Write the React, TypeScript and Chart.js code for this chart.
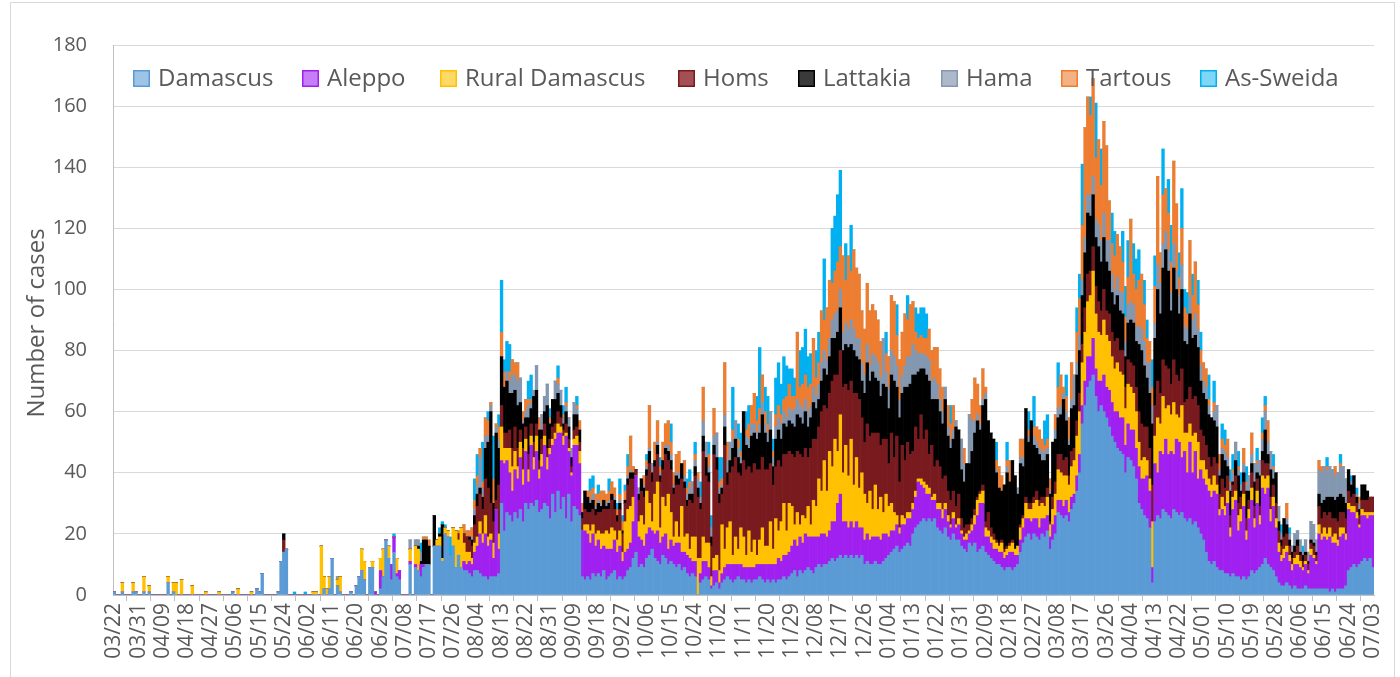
import React, { useEffect, useRef } from 'react';
import { Chart, registerables } from 'chart.js';

Chart.register(...registerables);

const SERIES_NAMES = ['Damascus', 'Aleppo', 'Rural Damascus', 'Homs', 'Lattakia', 'Hama', 'Tartous', 'As-Sweida'];
const SERIES_COLORS = ['#5B9BD5', '#A020F0', '#FFC000', '#781A1E', '#000000', '#8497B0', '#ED7D31', '#00B0F0'];
const LEGEND_FILLS = ['#9DC3E6', '#C77DF7', '#FFD966', '#A35055', '#3A3A3A', '#ADB9CA', '#F4B183', '#7FD7F7'];

const TICK_LABELS = [
  '03/22', '03/31', '04/09', '04/18', '04/27', '05/06', '05/15', '05/24', '06/02', '06/11', '06/20', '06/29',
  '07/08', '07/17', '07/26', '08/04', '08/13', '08/22', '08/31', '09/09', '09/18', '09/27', '10/06', '10/15',
  '10/24', '11/02', '11/11', '11/20', '11/29', '12/08', '12/17', '12/26', '01/04', '01/13', '01/22', '01/31',
  '02/09', '02/18', '02/27', '03/08', '03/17', '03/26', '04/04', '04/13', '04/22', '05/01', '05/10', '05/19',
  '05/28', '06/06', '06/15', '06/24', '07/03',
];
const TICK_EVERY = 9;

const DAMASCUS = [
  1,0,0,1,0,0,0,1,1,
  0,0,1,0,1,0,0,0,0,
  0,0,4,0,1,0,0,0,0,
  0,0,0,0,0,0,0,0,0,
  0,0,0,0,0,0,0,0,1,
  0,0,0,0,0,0,0,0,2,
  1,7,0,0,0,0,0,1,11,
  14,15,0,0,0,0,0,0,0,
  0,0,0,0,0,0,2,0,2,
  12,0,3,1,0,0,0,1,0,
  3,6,8,5,0,9,9,0,0,
  2,6,18,12,5,14,6,5,0,
  0,0,10,0,9,8,6,9,10,
  10,0,16,16,16,11,20,19,13,
  16,9,13,9,8,8,7,6,8,
  8,7,6,6,5,6,6,6,7,
  30,21,27,26,24,27,25,28,24,
  30,28,30,29,31,27,28,30,29,
  25,33,27,34,28,32,25,33,24,
  29,28,26,6,5,6,5,7,6,
  7,6,8,5,6,7,8,5,6,
  5,6,8,9,12,14,9,10,9,
  12,13,15,12,11,10,13,12,10,
  11,10,9,10,8,9,7,6,7,
  6,0,4,5,6,5,2,3,4,
  2,4,5,6,5,4,5,6,5,
  5,4,5,4,5,5,6,5,4,
  5,4,5,4,5,5,6,5,6,
  7,8,6,8,7,8,9,8,7,
  9,10,9,10,10,11,12,11,12,
  13,12,13,12,13,12,13,12,13,
  10,11,10,10,11,10,10,11,12,
  13,14,15,16,14,15,16,17,16,
  20,22,23,24,25,24,25,24,25,
  22,21,20,22,19,18,20,18,18,
  16,15,14,17,16,17,14,15,16,
  14,13,12,11,10,10,9,8,9,
  9,8,9,10,14,17,19,20,18,
  20,19,18,20,19,21,15,18,20,
  27,26,25,26,24,28,30,34,40,
  56,62,68,70,72,65,60,62,60,
  58,55,52,50,48,47,46,40,45,
  44,42,38,30,28,26,25,22,4,
  24,26,25,28,27,26,25,28,27,
  26,27,25,24,25,23,24,22,20,
  18,14,11,10,11,9,8,8,7,
  7,6,7,6,6,5,6,5,6,
  8,7,8,9,10,12,10,9,8,
  6,4,3,3,4,3,2,3,2,
  2,2,3,2,2,2,2,2,2,
  2,2,1,2,1,2,2,2,3,
  8,9,10,9,10,11,12,11,12,
  9,
];

const ALEPPO = [
  0,0,0,0,0,0,0,0,0,
  0,0,0,0,0,0,0,0,0,
  0,0,0,0,0,0,0,0,0,
  0,0,0,0,0,0,0,0,0,
  0,0,0,0,0,0,0,0,0,
  0,0,0,0,0,0,0,0,0,
  0,0,0,0,0,0,0,0,0,
  0,0,0,0,0,0,0,0,0,
  0,0,0,0,0,0,0,0,0,
  0,0,0,0,0,0,0,0,0,
  0,0,0,0,0,0,0,1,0,
  6,0,0,0,5,5,1,3,0,
  0,0,1,0,1,0,4,1,0,
  0,0,0,0,0,0,0,0,0,
  0,0,0,0,3,2,4,4,6,
  8,13,11,14,11,12,6,22,8,
  14,22,17,14,10,14,13,17,12,
  17,9,19,12,16,11,14,19,12,
  21,16,24,19,25,17,27,14,15,
  20,21,17,15,16,14,12,13,10,
  11,9,8,10,9,8,10,9,10,
  6,8,7,8,12,25,10,8,7,
  8,9,6,8,10,7,6,8,5,
  7,6,8,7,6,5,6,6,4,
  5,0,3,6,5,4,1,5,4,
  2,3,4,4,5,6,5,4,5,
  4,5,4,5,4,5,4,5,6,
  5,6,5,6,7,6,7,8,8,
  9,10,10,11,10,12,10,11,12,
  10,9,11,10,9,10,12,13,18,
  20,12,11,10,11,10,11,10,9,
  8,9,8,9,8,9,8,9,8,
  6,7,6,7,6,8,7,8,9,
  8,10,14,12,10,9,8,7,6,
  6,7,5,6,5,4,5,4,5,
  4,3,4,3,5,6,12,15,14,
  5,6,5,4,5,4,5,4,4,
  5,6,4,3,4,5,6,5,6,
  5,6,4,5,6,5,4,5,6,
  4,5,4,5,3,4,3,5,6,
  6,8,10,8,12,9,10,8,12,
  10,12,11,10,12,11,12,9,11,
  10,12,10,12,10,12,14,12,5,
  19,14,22,18,24,20,22,18,24,
  24,18,22,16,25,17,23,16,21,
  20,22,23,22,23,24,18,20,19,
  23,13,21,25,15,19,23,13,19,
  23,15,22,14,25,21,25,15,21,
  16,10,8,9,10,8,6,7,8,
  7,6,7,5,11,10,8,18,16,
  17,16,18,15,16,14,17,18,15,
  20,18,17,16,12,15,14,14,14,
  17,
];

const RURAL_DAMASCUS = [
  0,0,0,3,0,0,0,3,0,
  0,0,5,0,2,0,0,0,0,
  0,0,2,0,3,4,0,5,0,
  0,0,3,0,0,0,0,1,0,
  0,0,0,1,0,0,0,0,0,
  0,2,0,0,0,0,1,0,0,
  0,0,0,0,0,0,0,0,0,
  0,0,0,0,0,0,0,0,0,
  0,0,1,1,0,16,4,2,4,
  0,0,2,5,0,0,0,0,0,
  0,0,7,6,0,0,2,0,0,
  4,9,0,4,0,0,5,0,0,
  0,0,4,0,6,7,0,0,0,
  0,0,0,2,3,1,2,2,0,
  6,12,5,13,6,4,3,2,3,
  3,4,3,6,3,2,5,0,5,
  11,5,4,8,8,6,4,5,5,
  4,4,3,4,5,3,4,3,4,
  2,2,2,3,2,3,1,1,1,
  2,3,4,0,2,3,4,3,4,
  3,5,4,6,5,7,3,4,5,
  3,10,13,12,8,0,5,8,7,
  14,8,3,13,16,5,13,9,18,
  9,3,7,2,15,5,7,3,8,
  8,12,5,8,6,8,3,4,5,
  4,16,6,12,14,3,9,5,12,
  10,4,12,5,9,3,8,12,6,
  6,14,5,15,9,13,17,8,16,
  13,5,11,4,9,5,10,4,12,
  10,19,14,24,15,26,18,27,17,
  26,16,25,17,27,14,21,13,18,
  15,10,16,9,17,9,14,7,13,
  10,9,6,3,2,3,2,2,2,
  2,2,1,2,2,3,2,1,2,
  2,2,3,2,2,1,2,1,2,
  1,1,2,1,2,3,5,3,4,
  3,2,2,3,2,2,3,2,2,
  2,3,2,3,4,3,5,3,4,
  5,6,7,5,4,6,4,5,7,
  10,9,10,8,9,10,11,13,14,
  14,16,18,20,22,18,16,15,18,
  17,16,15,14,16,15,14,12,13,
  14,12,12,8,6,7,5,4,15,
  9,18,9,19,10,16,12,17,8,
  8,17,6,13,6,12,6,12,3,
  6,5,4,4,5,3,2,4,3,
  4,3,4,3,5,4,4,3,3,
  4,3,4,3,4,5,4,4,3,
  3,3,2,3,2,2,2,2,3,
  2,1,1,1,2,1,1,3,2,
  3,2,3,2,3,2,3,2,2,
  2,2,2,2,1,2,1,2,1,
  1,
];

const HOMS = [
  0,0,0,0,0,0,0,0,0,
  0,0,0,0,0,0,0,0,0,
  0,0,0,0,0,0,0,0,0,
  0,0,0,0,0,0,0,0,0,
  0,0,0,0,0,0,0,0,0,
  0,0,0,0,0,0,0,0,0,
  0,0,0,0,0,0,0,0,0,
  4,0,0,0,0,0,0,0,0,
  0,0,0,0,0,0,0,0,0,
  0,0,0,0,0,0,0,0,0,
  0,0,0,0,0,0,0,0,0,
  0,0,0,0,0,0,0,0,0,
  0,0,0,0,0,0,0,0,0,
  0,0,0,0,0,0,0,0,0,
  0,0,2,0,3,5,4,4,6,
  10,9,8,12,16,10,7,3,16,
  7,5,5,6,6,8,6,4,7,
  4,5,4,5,4,3,5,4,3,
  3,4,3,4,3,2,3,3,2,
  3,3,3,4,5,4,6,5,6,
  6,7,8,7,8,9,7,6,7,
  6,6,8,9,6,2,7,8,9,
  5,13,13,9,9,15,9,17,11,
  14,14,12,17,9,16,9,16,11,
  20,20,16,28,22,20,10,34,28,
  22,10,34,14,16,29,26,25,17,
  25,28,21,26,25,28,23,23,25,
  25,19,21,17,23,18,16,25,17,
  17,22,20,23,19,23,16,25,20,
  22,17,26,18,27,19,28,21,25,
  21,28,20,28,19,30,21,29,18,
  17,26,18,25,17,25,17,24,18,
  14,23,18,26,15,23,19,23,19,
  17,21,13,21,14,18,11,17,9,
  14,12,10,9,8,8,7,6,8,
  4,3,3,2,2,2,1,1,2,
  2,6,3,2,1,1,1,1,1,
  1,1,0,0,1,1,2,2,2,
  2,3,2,2,3,3,1,4,4,
  5,6,5,6,3,5,4,5,6,
  6,8,9,8,8,9,10,8,10,
  8,9,8,9,8,7,8,7,8,
  8,9,8,10,12,10,11,10,12,
  10,12,10,12,14,12,10,14,13,
  12,12,10,11,12,12,12,12,10,
  8,8,7,6,6,7,5,6,6,
  5,4,4,5,4,4,4,4,3,
  5,4,4,3,5,5,4,4,4,
  5,4,3,4,4,3,2,2,3,
  2,2,2,2,2,3,2,6,5,
  5,6,5,6,5,6,5,5,5,
  4,3,4,3,3,3,4,4,5,
  5,
];

const LATTAKIA = [
  0,0,0,0,0,0,0,0,0,
  0,0,0,0,0,0,0,0,0,
  0,0,0,0,0,0,0,0,0,
  0,0,0,0,0,0,0,0,0,
  0,0,0,0,0,0,0,0,0,
  0,0,0,0,0,0,0,0,0,
  0,0,0,0,0,0,0,0,0,
  2,0,0,0,0,0,0,0,0,
  0,0,0,0,0,0,0,0,0,
  0,0,0,0,0,0,0,0,0,
  0,0,0,0,0,0,0,0,0,
  0,0,0,0,0,0,0,0,0,
  0,0,0,0,0,1,1,8,8,
  6,0,10,0,1,11,0,0,0,
  0,0,0,0,0,0,1,2,3,
  4,2,4,10,15,30,6,22,12,
  16,15,17,12,18,12,14,9,8,
  3,12,5,15,11,10,3,4,14,
  5,9,8,6,4,2,4,4,3,
  5,4,4,2,6,5,3,3,2,
  3,2,3,1,2,2,3,2,2,
  1,1,2,2,2,0,2,4,3,
  2,4,3,2,3,2,3,2,3,
  3,2,3,2,5,2,2,2,3,
  3,3,2,5,6,3,3,3,4,
  3,2,6,4,4,6,6,5,4,
  16,8,6,12,10,10,12,14,12,
  9,11,6,9,10,9,10,9,10,
  10,10,12,12,11,12,10,10,12,
  10,9,10,12,11,12,14,12,14,
  14,12,13,14,12,14,12,13,12,
  16,20,18,20,18,17,16,18,17,
  18,19,25,16,21,17,24,18,23,
  25,17,22,15,23,18,24,15,22,
  20,18,18,25,18,17,17,26,21,
  16,15,20,20,22,25,25,20,26,
  40,30,31,31,22,18,16,21,24,
  20,26,24,17,20,16,29,20,27,
  17,14,15,12,12,11,9,18,14,
  12,13,20,12,10,14,14,15,14,
  16,18,20,18,17,16,18,16,17,
  16,14,13,12,14,13,12,10,12,
  14,14,15,22,24,20,16,18,20,
  22,30,26,30,38,32,24,30,28,
  22,26,20,18,24,20,20,19,16,
  14,15,14,16,12,12,6,8,9,
  3,8,1,5,9,2,3,9,3,
  3,8,2,10,3,11,3,9,2,
  10,3,2,6,3,2,2,2,2,
  1,2,1,1,1,1,1,4,5,
  4,6,5,7,6,8,6,5,5,
  7,4,6,2,2,5,5,3,0,
  0,
];

const HAMA = [
  0,0,0,0,0,0,0,0,0,
  0,0,0,0,0,0,0,0,0,
  0,0,0,0,0,0,0,0,0,
  0,0,0,0,0,0,0,0,0,
  0,0,0,0,0,0,0,0,0,
  0,0,0,0,0,0,0,0,0,
  0,0,0,0,0,0,0,0,0,
  0,0,0,0,0,0,0,0,0,
  0,0,0,0,0,0,0,0,0,
  0,0,1,0,0,0,0,0,0,
  0,0,0,0,0,0,0,0,0,
  0,0,0,0,0,0,0,0,0,
  0,0,3,0,2,2,3,0,0,
  0,0,0,0,0,0,0,0,0,
  0,0,0,0,0,0,0,1,2,
  3,10,3,4,2,2,0,2,3,
  0,0,3,4,6,5,8,8,1,
  2,4,2,2,8,0,5,5,7,
  0,0,6,3,5,2,2,3,3,
  4,2,0,0,0,0,1,2,1,
  1,1,0,1,1,0,1,0,1,
  0,0,1,1,0,0,2,0,1,
  1,1,3,0,1,1,0,1,2,
  2,1,1,2,0,2,2,2,4,
  2,3,2,5,5,2,3,3,8,
  2,1,4,4,6,3,6,3,2,
  0,3,3,4,3,2,3,4,3,
  3,6,3,4,4,5,4,3,4,
  4,6,5,4,5,4,5,4,5,
  4,5,6,6,5,6,6,8,7,
  6,6,7,6,8,7,6,7,6,
  6,6,5,6,7,6,6,15,5,
  7,8,8,7,6,6,7,10,9,
  10,8,6,5,5,6,7,6,7,
  5,4,4,4,3,3,3,2,0,
  10,6,0,16,10,4,2,2,2,
  2,0,0,0,1,0,0,0,2,
  0,0,0,2,2,3,0,2,0,
  3,2,2,3,3,2,1,0,3,
  3,3,2,3,2,3,10,4,5,
  5,5,6,7,6,6,7,7,8,
  7,10,6,5,6,6,7,5,6,
  6,6,5,6,7,8,5,10,6,
  5,8,10,8,6,7,6,8,6,
  6,8,5,5,6,6,7,6,5,
  4,4,3,0,3,7,2,2,3,
  3,2,3,6,2,2,3,2,5,
  3,6,3,5,4,6,4,6,3,
  0,5,2,0,2,2,2,4,3,
  4,1,4,3,6,6,4,8,10,
  11,9,10,9,8,8,9,10,8,
  0,1,0,1,2,0,0,0,0,
  0,
];

const TARTOUS = [
  0,0,0,0,0,0,0,0,0,
  0,0,0,0,0,0,0,0,0,
  0,0,0,0,0,0,0,0,0,
  0,0,0,0,0,0,0,0,0,
  0,0,0,0,0,0,0,0,0,
  0,0,0,0,0,0,0,0,0,
  0,0,0,0,0,0,0,0,0,
  0,0,0,0,0,0,0,0,0,
  0,0,0,0,0,0,0,0,0,
  0,0,0,0,0,0,0,0,0,
  0,0,0,0,0,0,0,0,0,
  0,0,0,0,0,0,0,0,0,
  0,0,0,0,0,0,0,1,1,
  2,0,0,0,0,0,0,0,0,
  0,0,1,0,3,2,2,3,3,
  3,3,2,6,5,1,8,1,4,
  8,5,0,3,5,4,6,0,3,
  4,2,1,0,0,4,0,0,0,
  2,0,0,2,0,1,1,0,0,
  0,1,3,3,0,2,3,2,4,
  2,4,3,3,3,4,3,2,2,
  3,3,3,11,2,0,0,0,3,
  2,14,0,6,7,2,6,7,8,
  4,4,6,7,0,5,2,2,0,
  2,2,0,11,0,4,0,9,0,
  2,2,17,6,0,3,0,3,2,
  0,2,5,6,10,4,5,9,4,
  3,0,2,4,4,3,4,7,8,
  5,4,22,6,8,8,8,7,16,
  6,7,17,10,17,19,12,14,16,
  14,25,14,24,16,26,23,21,17,
  15,20,18,16,15,14,12,0,6,
  10,18,18,10,13,14,17,12,17,
  14,6,5,6,5,6,10,10,10,
  12,10,8,0,7,5,8,0,0,
  0,5,0,0,7,14,10,6,10,
  2,0,0,0,3,7,5,0,2,
  7,0,0,0,6,6,0,2,0,
  3,5,6,4,2,3,4,0,5,
  7,10,2,5,7,12,0,10,12,
  18,36,32,26,32,20,28,18,30,
  31,13,10,11,14,15,10,8,9,
  27,10,12,15,18,12,8,7,6,
  12,29,10,16,14,12,10,27,22,
  6,12,6,5,18,8,17,8,5,
  6,6,2,0,3,0,5,3,2,
  6,1,1,0,1,0,5,1,0,
  7,0,1,0,2,2,7,0,1,
  0,0,0,0,5,0,0,0,0,
  0,0,0,0,0,0,0,3,2,
  0,1,0,0,3,0,1,0,0,
  0,0,0,0,2,0,0,0,0,
  0,
];

const AS_SWEIDA = [
  0,0,0,0,0,0,0,0,0,
  0,0,0,0,0,0,0,0,0,
  0,0,0,0,0,0,0,0,0,
  0,0,0,0,0,0,0,0,0,
  0,0,0,0,0,0,0,0,0,
  0,0,0,0,0,0,0,0,0,
  0,0,0,0,0,0,0,0,0,
  0,0,0,0,1,0,0,0,1,
  0,0,0,0,0,0,0,0,0,
  0,0,0,0,0,0,0,0,0,
  0,0,0,0,0,0,0,0,0,
  0,0,0,0,0,1,0,0,0,
  0,0,0,0,0,0,3,0,0,
  0,0,0,0,2,1,1,0,6,
  0,0,0,0,0,0,0,0,7,
  7,0,13,0,3,0,14,0,4,
  17,4,10,9,0,0,0,0,0,
  0,6,8,0,0,0,0,0,0,
  3,0,0,4,0,3,5,0,0,
  0,3,0,0,0,0,4,4,0,
  3,0,0,0,4,0,0,2,5,
  2,2,4,0,0,0,0,0,0,
  2,0,0,0,0,3,0,0,0,
  6,0,0,0,0,0,3,4,0,
  4,0,5,0,0,4,4,0,0,
  8,7,0,0,0,14,0,5,6,
  0,6,6,0,0,8,20,0,8,
  9,0,4,12,14,10,14,10,5,
  9,6,0,12,12,15,10,10,0,
  9,10,0,20,0,0,18,18,22,
  25,0,12,0,15,0,0,0,0,
  0,0,0,0,0,0,0,0,7,
  0,0,0,10,0,0,0,8,0,
  0,8,8,9,10,8,0,0,0,
  0,0,0,0,0,6,0,0,0,
  0,0,0,0,0,0,0,0,0,
  0,0,0,0,6,0,0,0,6,
  0,0,0,0,0,0,0,6,0,
  10,0,0,0,8,8,0,0,0,
  8,0,0,7,0,0,0,8,8,
  20,0,0,6,0,18,0,12,0,
  0,0,10,8,0,0,10,10,12,
  0,10,10,10,0,8,6,0,9,
  10,0,0,15,0,11,12,0,0,
  8,13,6,7,0,7,0,8,6,
  0,0,8,0,7,0,0,5,5,
  0,4,5,0,5,4,0,5,0,
  0,0,4,0,5,3,0,0,4,
  0,0,3,0,0,2,0,0,0,
  0,2,0,0,0,0,0,0,0,
  0,3,0,0,0,0,3,0,0,
  0,2,0,2,0,0,0,0,0,
  0,
];

const SERIES_VALUES = [DAMASCUS, ALEPPO, RURAL_DAMASCUS, HOMS, LATTAKIA, HAMA, TARTOUS, AS_SWEIDA];

function buildCategories(count: number): string[] {
  const out: string[] = [];
  const start = Date.UTC(2020, 2, 22);
  for (let i = 0; i < count; i++) {
    const d = new Date(start + i * 86400000);
    const mm = String(d.getUTCMonth() + 1).padStart(2, '0');
    const dd = String(d.getUTCDate()).padStart(2, '0');
    out.push(`${mm}/${dd}`);
  }
  return out;
}

const FONT = "'Open Sans', 'Noto Sans', sans-serif";
const TEXT_COLOR = '#595959';
const LEGEND_X = [133, 302, 440, 678, 798, 941, 1061, 1200];

const decorPlugin = {
  id: 'decor',
  beforeDraw(chart: any) {
    const ctx = chart.ctx;
    ctx.save();
    ctx.fillStyle = '#ffffff';
    ctx.fillRect(0, 0, chart.width, chart.height);
    ctx.strokeStyle = '#D9D9D9';
    ctx.lineWidth = 1;
    ctx.strokeRect(10.5, 2.5, 1384, 740);
    ctx.restore();
  },
  afterDatasetsDraw(chart: any) {
    const ctx = chart.ctx;
    ctx.save();
    ctx.fillStyle = TEXT_COLOR;
    ctx.font = `24px ${FONT}`;
    ctx.textAlign = 'center';
    ctx.textBaseline = 'middle';
    ctx.translate(37, 323);
    ctx.rotate(-Math.PI / 2);
    ctx.fillText('Number of cases', 0, 0);
    ctx.restore();

    ctx.save();
    ctx.font = `24px ${FONT}`;
    ctx.textBaseline = 'middle';
    ctx.textAlign = 'left';
    SERIES_NAMES.forEach((name, i) => {
      const x = LEGEND_X[i];
      ctx.fillStyle = LEGEND_FILLS[i];
      ctx.fillRect(x, 70, 17, 17);
      ctx.strokeStyle = SERIES_COLORS[i];
      ctx.lineWidth = 1.5;
      ctx.strokeRect(x + 0.75, 70.75, 15.5, 15.5);
      ctx.fillStyle = TEXT_COLOR;
      ctx.fillText(name, x + 25, 79);
    });
    ctx.restore();
  },
};

export default function App() {
  const canvasRef = useRef<HTMLCanvasElement | null>(null);

  useEffect(() => {
    const canvas = canvasRef.current;
    if (!canvas) return;
    const categories = buildCategories(DAMASCUS.length);
    const chart = new Chart(canvas, {
      type: 'bar',
      data: {
        labels: categories,
        datasets: SERIES_NAMES.map((name, i) => ({
          label: name,
          data: SERIES_VALUES[i],
          backgroundColor: SERIES_COLORS[i],
          borderWidth: 0,
          barPercentage: 1,
          categoryPercentage: 1,
        })),
      },
      options: {
        animation: false,
        responsive: false,
        devicePixelRatio: 1,
        layout: { padding: { top: 45, right: 22, left: 0, bottom: 0 } },
        plugins: {
          legend: { display: false },
          tooltip: { enabled: false },
          title: { display: false },
        },
        scales: {
          x: {
            stacked: true,
            grid: {
              display: true,
              drawOnChartArea: false,
              drawTicks: true,
              tickLength: 6,
              color: '#BFBFBF',
            },
            border: { display: true, color: '#BFBFBF' },
            ticks: {
              autoSkip: false,
              maxRotation: 90,
              minRotation: 90,
              padding: 2,
              color: TEXT_COLOR,
              font: { family: FONT, size: 21 },
              callback: (_v: any, index: number) =>
                index % TICK_EVERY === 0 ? TICK_LABELS[index / TICK_EVERY] : null,
            },
            afterFit: (scale: any) => {
              scale.height = 82;
            },
          },
          y: {
            stacked: true,
            min: 0,
            max: 180,
            grid: { color: '#D9D9D9', drawTicks: false },
            border: { display: true, color: '#BFBFBF' },
            ticks: {
              stepSize: 20,
              padding: 26,
              color: TEXT_COLOR,
              font: { family: FONT, size: 20 },
            },
            afterFit: (scale: any) => {
              scale.width = 113;
            },
          },
        },
      },
      plugins: [decorPlugin],
    });
    return () => chart.destroy();
  }, []);

  return (
    <div style={{ position: 'fixed', left: 0, top: 0, width: 1400, height: 677, background: '#fff' }}>
      <canvas ref={canvasRef} width={1400} height={677} style={{ display: 'block' }} />
    </div>
  );
}
